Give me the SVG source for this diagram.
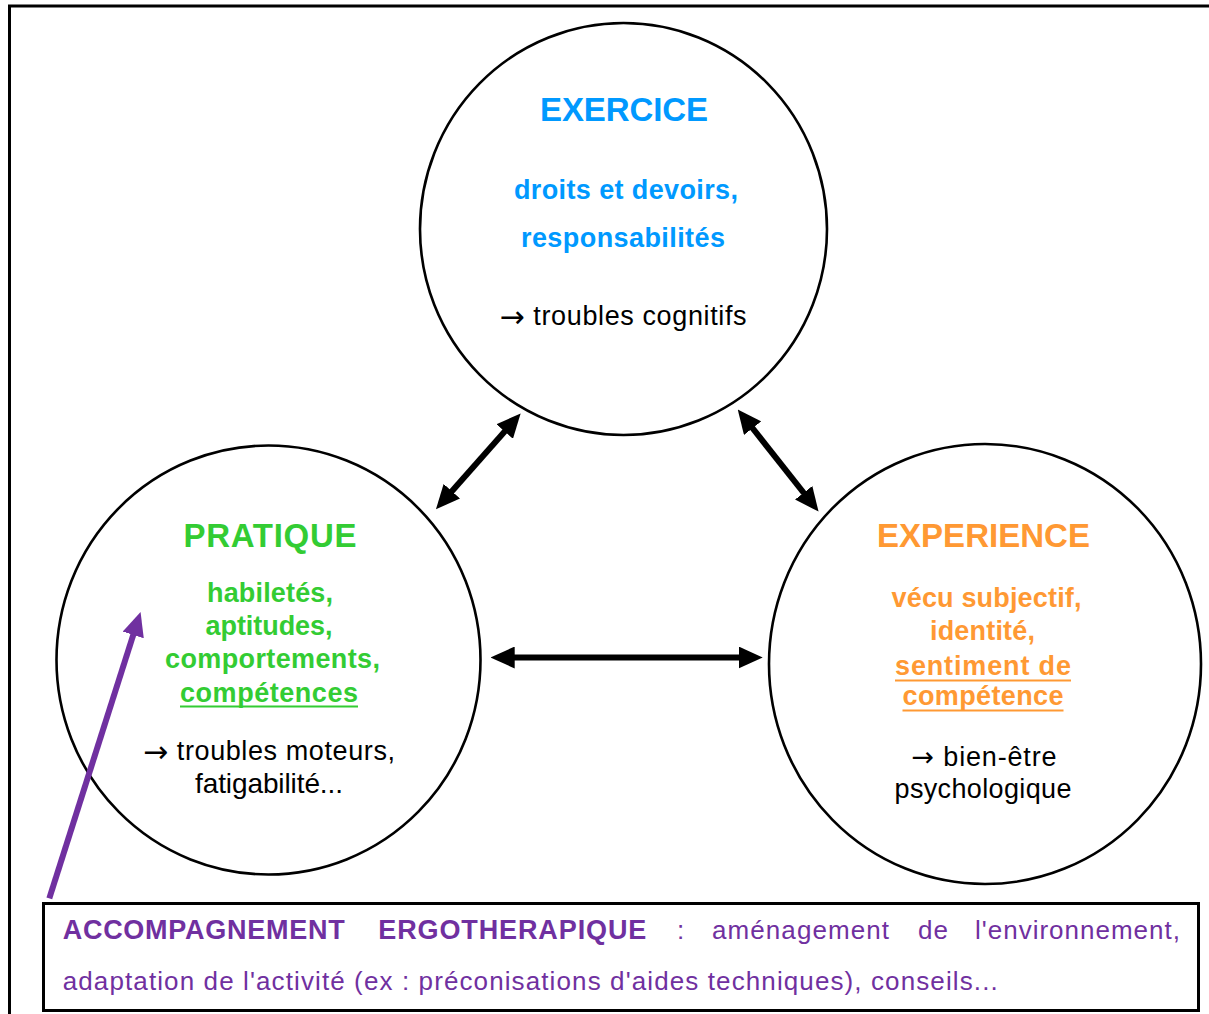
<svg xmlns="http://www.w3.org/2000/svg" width="1209" height="1014" viewBox="0 0 1209 1014">
  <style>
    text { font-family: "Liberation Sans", Arial, sans-serif; }
    .arr { font-family: "DejaVu Sans", sans-serif; font-size: 30px; font-weight: normal; }
    .arr2 { font-family: "DejaVu Sans", sans-serif; font-size: 27px; font-weight: normal; }
    .c { text-anchor: middle; }
    .b { font-weight: bold; }
    .blue { fill: #0099FF; }
    .green { fill: #33CC33; }
    .orange { fill: #FF9933; }
    .purple { fill: #7030A0; }
    .ink { fill: #000000; }
    .ring { fill: none; stroke: #000000; stroke-width: 2.6; }
    .link { stroke: #000000; stroke-width: 6; fill: none; }
    .ul { stroke-width: 2; }
  </style>
  <defs>
    <marker id="head" viewBox="0 0 24 22" markerWidth="24" markerHeight="22" markerUnits="userSpaceOnUse" refX="6" refY="11" orient="auto-start-reverse">
      <path d="M0,0 L24,11 L0,22 z" fill="#000000"/>
    </marker>
    <marker id="headPurple" viewBox="0 0 24 22" markerWidth="24" markerHeight="22" markerUnits="userSpaceOnUse" refX="6" refY="11" orient="auto">
      <path d="M0,0 L24,11 L0,22 z" fill="#7030A0"/>
    </marker>
  </defs>

  <rect width="1209" height="1014" fill="#ffffff"/>

  <!-- outer frame (open on the right and bottom) -->
  <path d="M9.5,1014 V6 H1209" fill="none" stroke="#000000" stroke-width="3"/>

  <!-- EXERCICE -->
  <g id="exercice">
    <ellipse class="ring" cx="623.5" cy="229" rx="203.5" ry="206"/>
    <text class="c b blue" x="624" y="121" font-size="33" textLength="168">EXERCICE</text>
    <text class="c b blue" x="626" y="199" font-size="27" textLength="224">droits et devoirs,</text>
    <text class="c b blue" x="623" y="247" font-size="27" textLength="204">responsabilités</text>
    <text class="c ink" x="623" y="325" font-size="27" textLength="247"><tspan class="arr" baseline-shift="-2">→</tspan> troubles cognitifs</text>
  </g>

  <!-- PRATIQUE -->
  <g id="pratique">
    <ellipse class="ring" cx="268.5" cy="660" rx="212" ry="214.5"/>
    <text class="c b green" x="270" y="547" font-size="33" textLength="173">PRATIQUE</text>
    <text class="c b green" x="270" y="602" font-size="27" textLength="126">habiletés,</text>
    <text class="c b green" x="269" y="635" font-size="27" textLength="127">aptitudes,</text>
    <text class="c b green" x="272.5" y="668" font-size="27" textLength="215">comportements,</text>
    <text class="c b green" x="269" y="701.5" font-size="27" textLength="178">compétences</text>
    <line class="ul" x1="180" y1="706.5" x2="358" y2="706.5" stroke="#33CC33"/>
    <text class="c ink" x="269" y="760" font-size="27" textLength="252"><tspan class="arr" baseline-shift="-2">→</tspan> troubles moteurs,</text>
    <text class="c ink" x="269" y="793" font-size="28" textLength="148">fatigabilité...</text>
  </g>

  <!-- EXPERIENCE -->
  <g id="experience">
    <ellipse class="ring" cx="985" cy="664" rx="216" ry="220"/>
    <text class="c b orange" x="983.5" y="547" font-size="33" textLength="213">EXPERIENCE</text>
    <text class="c b orange" x="986.5" y="607" font-size="27" textLength="190">vécu subjectif,</text>
    <text class="c b orange" x="982.5" y="640" font-size="27" textLength="105">identité,</text>
    <text class="c b orange" x="983" y="675" font-size="27" textLength="176">sentiment de</text>
    <line class="ul" x1="895" y1="680.5" x2="1071" y2="680.5" stroke="#FF9933"/>
    <text class="c b orange" x="983" y="705" font-size="27" textLength="161">compétence</text>
    <line class="ul" x1="902.5" y1="710.5" x2="1063.5" y2="710.5" stroke="#FF9933"/>
    <text class="c ink" x="984" y="766" font-size="27" textLength="145"><tspan class="arr2">→</tspan> bien-être</text>
    <text class="c ink" x="983" y="798" font-size="27" textLength="177">psychologique</text>
  </g>

  <!-- ACCOMPAGNEMENT ERGOTHERAPIQUE -->
  <g id="accompagnement">
    <rect x="43.5" y="903.5" width="1155" height="107" fill="#ffffff" stroke="#000000" stroke-width="3"/>
    <text class="b purple" x="62.7" y="939" font-size="27" textLength="282">ACCOMPAGNEMENT</text>
    <text class="b purple" x="378.3" y="939" font-size="27" textLength="268">ERGOTHERAPIQUE</text>
    <text class="purple" x="677" y="939" font-size="26">:</text>
    <text class="purple" x="712" y="939" font-size="26" textLength="177">aménagement</text>
    <text class="purple" x="918" y="939" font-size="26" textLength="30">de</text>
    <text class="purple" x="975" y="939" font-size="26" textLength="205">l'environnement,</text>
    <text class="purple" x="62.7" y="990" font-size="26" textLength="935">adaptation de l'activité (ex : préconisations d'aides techniques), conseils...</text>
  </g>

  <!-- connectors -->
  <g id="connectors">
    <line class="link" x1="447.9" y1="495.7" x2="508.7" y2="427" marker-start="url(#head)" marker-end="url(#head)"/>
    <line class="link" x1="748.9" y1="423.5" x2="807.4" y2="497.5" marker-start="url(#head)" marker-end="url(#head)"/>
    <line class="link" x1="508.7" y1="657.5" x2="744.7" y2="657.5" marker-start="url(#head)" marker-end="url(#head)"/>
    <line x1="49.3" y1="898.3" x2="135.1" y2="629.2" stroke="#7030A0" stroke-width="6" marker-end="url(#headPurple)"/>
  </g>
</svg>
